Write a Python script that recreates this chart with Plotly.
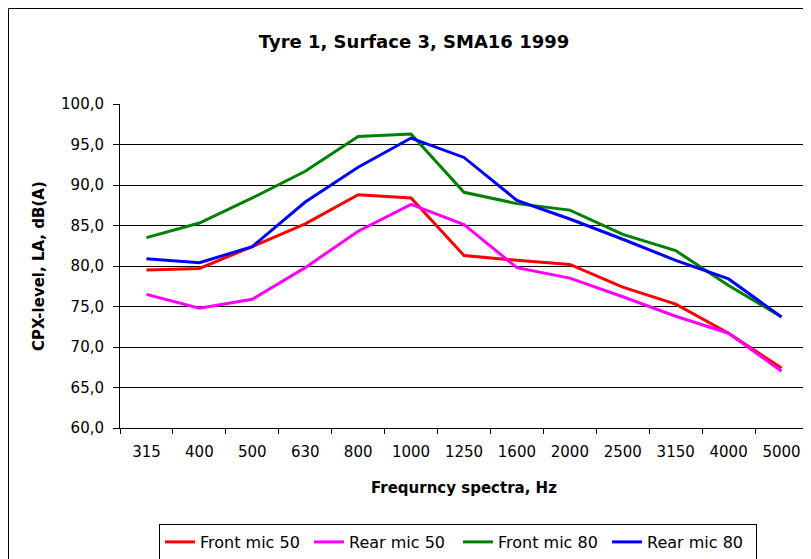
import plotly.graph_objects as go

categories = ["315", "400", "500", "630", "800", "1000", "1250", "1600", "2000", "2500", "3150", "4000", "5000"]
front_mic_50 = [79.5, 79.7, 82.4, 85.2, 88.8, 88.4, 81.3, 80.7, 80.2, 77.4, 75.3, 71.7, 67.4]
rear_mic_50 = [76.5, 74.8, 75.9, 79.8, 84.3, 87.6, 85.1, 79.8, 78.5, 76.2, 73.8, 71.7, 67.0]
front_mic_80 = [83.5, 85.3, 88.4, 91.7, 96.0, 96.3, 89.1, 87.7, 86.9, 83.9, 81.9, 77.6, 73.7]
rear_mic_80 = [80.9, 80.4, 82.4, 87.9, 92.2, 95.8, 93.4, 88.1, 85.8, 83.3, 80.7, 78.4, 73.7]

series = [
    ("Front mic 50", front_mic_50, "#ff0000"),
    ("Rear mic 50", rear_mic_50, "#ff00ff"),
    ("Front mic 80", front_mic_80, "#008000"),
    ("Rear mic 80", rear_mic_80, "#0000ff"),
]

FONT = "DejaVu Sans, Verdana, sans-serif"

# The page has an 8px body margin, so the figure is drawn 8px smaller and offset.
W, H = 803, 551
L, T, R, B = 112, 96, 3, 131
PW, PH = W - L - R, H - T - B

fig = go.Figure()
for name, vals, color in series:
    fig.add_trace(go.Scatter(x=categories, y=vals, mode="lines", name=name,
                             line=dict(color=color, width=3)))

fig.update_layout(
    width=W, height=H,
    margin=dict(l=L, r=R, t=T, b=B, autoexpand=False),
    paper_bgcolor="white", plot_bgcolor="white",
    font=dict(family=FONT, color="black", size=15),
    title=dict(text="<b>Tyre 1, Surface 3, SMA16 1999</b>", x=406 / W, xanchor="center",
               y=1 - 34 / H, yanchor="middle", font=dict(size=18)),
    showlegend=True,
    legend=dict(orientation="h", x=(151 - L) / PW, xanchor="left", y=(PH + T - 516) / PH, yanchor="top",
                bordercolor="#000000", borderwidth=1, font=dict(size=16),
                itemwidth=30, entrywidth=104, entrywidthmode="pixels"),
    xaxis=dict(type="category", range=[-0.5, 12.5], showline=True, linecolor="black", linewidth=1,
               ticks="outside", ticklen=5, tickcolor="black", tickson="boundaries",
               showgrid=False, tickfont=dict(size=15), ticklabelstandoff=10),
    yaxis=dict(range=[60, 100], dtick=5, tickformat=".1f", showline=True, linecolor="black",
               linewidth=1, ticks="outside", ticklen=6, tickcolor="black",
               showgrid=True, gridcolor="black", gridwidth=1, zeroline=False,
               tickfont=dict(size=15), ticklabelstandoff=6),
    separators=",.",
    annotations=[
        dict(text="<b>CPX-level, LA, dB(A)</b>", xref="paper", yref="paper",
             x=(31 - L) / PW, y=0.5, textangle=-90, showarrow=False,
             xanchor="center", yanchor="middle", font=dict(size=15)),
        dict(text="<b>Frequrncy spectra, Hz</b>", xref="paper", yref="paper",
             x=(456 - L) / PW, y=(PH + T - 480) / PH, showarrow=False,
             xanchor="center", yanchor="middle", font=dict(size=15)),
    ],
)

fig.add_shape(type="rect", xref="paper", yref="paper",
              x0=(0.5 - L) / PW, x1=1.2, y0=-0.6, y1=(PH + T - 0.5) / PH,
              line=dict(color="black", width=1), fillcolor="rgba(0,0,0,0)", layer="below")

fig.write_html("out.html")
